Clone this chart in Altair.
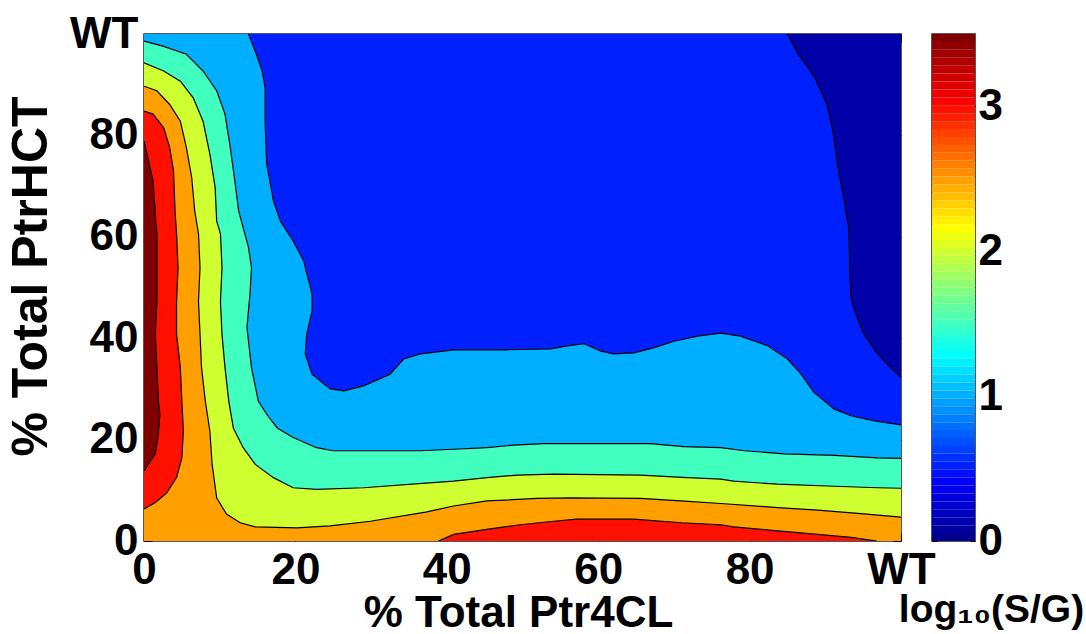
import altair as alt
import numpy as np
import pandas as pd

FONT = "Liberation Sans"

# Iso-lines of log10(S/G) over the transgenic plane.
# x = % total Ptr4CL, y = % total PtrHCT (100 = wild type)
iso05_x = [85.0, 86.3, 88.5, 90.2, 91.0, 91.6, 92.5, 93.1, 93.3, 93.4, 94.0, 95.1, 96.9, 98.7, 100.0]
iso05_y = [100.0, 96.3, 91.7, 86.2, 80.9, 74.4, 67.1, 61.7, 51.3, 47.9, 44.8, 40.8, 36.9, 34.1, 32.3]

iso10_x = [13.8, 14.7, 15.6, 16.0, 16.0, 16.2, 17.1, 18.0, 19.7, 21.1, 22.2, 22.2, 21.5, 21.3,
           22.2, 24.6, 26.4, 29.0, 32.5, 34.3, 36.5, 40.9, 47.5, 53.7, 55.9, 58.1, 60.3, 62.0,
           64.7, 67.3, 70.0, 73.1, 76.2, 78.8, 82.4, 85.0, 86.8, 88.5, 91.2, 93.4, 96.5, 100.0]
iso10_y = [100.0, 96.6, 92.7, 89.4, 82.8, 74.4, 67.1, 63.1, 59.2, 55.2, 48.7, 45.4, 40.8, 36.9,
           32.9, 30.0, 29.6, 30.6, 32.9, 35.9, 36.9, 37.7, 37.7, 37.9, 38.5, 38.9, 37.5, 36.9,
           37.1, 38.1, 39.4, 40.4, 41.0, 40.4, 38.5, 35.9, 32.9, 29.3, 26.0, 24.7, 23.7, 22.9]

iso15_x = [0.0, 2.5, 5.6, 7.8, 9.6, 10.7, 11.4, 12.0, 12.5, 13.1, 13.8, 14.2, 14.0, 13.6, 14.2,
           15.1, 16.2, 17.6, 19.7, 22.8, 25.0, 31.2, 36.5, 40.9, 45.3, 48.8, 52.8, 66.9, 71.3,
           76.2, 79.3, 84.6, 91.2, 96.9, 100.0]
iso15_y = [98.6, 97.6, 96.0, 92.7, 88.8, 84.2, 77.6, 71.0, 65.1, 61.8, 57.9, 53.9, 48.7, 42.1, 34.2,
           27.6, 25.0, 22.3, 20.4, 18.4, 17.8, 17.8, 17.8, 18.1, 18.4, 18.9, 19.2, 19.2, 18.6,
           18.4, 17.8, 17.2, 16.9, 16.4, 16.3]

iso20_x = [0.0, 2.6, 4.8, 6.5, 7.8, 8.7, 9.4, 9.6, 10.1, 10.3, 10.1, 10.3, 10.7, 11.2, 11.8, 13.1,
           14.7, 17.1, 19.7, 22.8, 29.0, 37.2, 40.9, 45.3, 49.3, 54.1, 65.6, 71.8, 76.2, 77.9,
           83.7, 91.2, 96.9, 100.0]
iso20_y = [94.3, 92.7, 90.7, 87.4, 82.8, 76.3, 69.7, 63.1, 60.6, 53.9, 47.3, 40.8, 34.2, 27.6, 22.3,
           18.4, 15.1, 12.5, 10.5, 10.2, 10.5, 11.4, 11.8, 12.5, 13.0, 13.2, 13.0, 12.5, 12.2,
           11.8, 11.2, 10.8, 10.5, 10.4]

iso25_x = [0.0, 1.7, 3.4, 4.8, 5.6, 6.3, 6.7, 7.2, 7.4, 7.2, 7.4, 7.6, 8.1, 8.7, 9.0, 9.6, 10.9,
           12.7, 14.7, 20.2, 24.6, 29.9, 37.2, 40.9, 45.3, 51.9, 56.3, 65.6, 70.9, 76.2, 83.7,
           89.0, 94.7, 100.0]
iso25_y = [89.7, 88.8, 86.1, 82.8, 77.6, 71.7, 65.1, 60.6, 53.9, 47.3, 40.8, 34.2, 27.6, 21.7, 15.1,
           8.5, 5.3, 3.6, 2.8, 2.6, 3.0, 3.9, 5.7, 6.9, 7.9, 8.4, 8.5, 8.4, 7.9, 7.4, 6.6, 6.1,
           5.4, 4.7]

iso30a_x = [0.0, 1.2, 2.6, 3.4, 3.9, 4.1, 4.3, 4.5, 4.3, 4.3, 4.8, 5.0, 5.2, 5.0, 4.3, 3.0, 1.5, 0.0]
iso30a_y = [84.8, 84.2, 81.5, 77.6, 73.0, 65.1, 60.6, 53.9, 47.3, 40.8, 34.2, 27.6, 21.7, 16.4,
            12.5, 9.5, 7.6, 6.3]

iso30b_x = [38.9, 40.9, 45.3, 49.7, 54.1, 57.2, 64.7, 71.0, 76.2, 77.9, 83.7, 89.0, 93.4, 96.8]
iso30b_y = [0.0, 1.3, 2.3, 3.2, 3.9, 4.3, 4.3, 3.6, 3.2, 2.8, 2.0, 1.3, 0.7, 0.0]

iso35_x = [0.0, 0.6, 1.2, 1.5, 1.7, 1.7, 1.5, 1.7, 1.9, 2.1, 1.9, 1.5, 0.0]
iso35_y = [78.9, 75.0, 71.0, 64.1, 60.6, 47.3, 40.8, 34.2, 27.6, 25.0, 21.1, 17.2, 13.8]

# jet colours of the filled bands, lowest level first
band_colors = ["#0000A8", "#0020FF", "#00AFFF", "#40FFBF", "#CFFF30", "#FF9F00", "#FF1000", "#FF1000", "#800000"]

# superlevel regions: (iso-line, plot corners that close the region)
LO, HI = 0, 100
regions = [
    ([], [], [(LO, LO), (HI, LO), (HI, HI), (LO, HI)]),
    (iso05_x, iso05_y, [(HI, LO), (LO, LO), (LO, HI)]),
    (iso10_x, iso10_y, [(HI, LO), (LO, LO), (LO, HI)]),
    (iso15_x, iso15_y, [(HI, LO), (LO, LO)]),
    (iso20_x, iso20_y, [(HI, LO), (LO, LO)]),
    (iso25_x, iso25_y, [(HI, LO), (LO, LO)]),
    (iso30a_x, iso30a_y, []),
    (iso30b_x, iso30b_y, []),
    (iso35_x, iso35_y, []),
]

iso_lines = {
    "0.5": (iso05_x, iso05_y), "1.0": (iso10_x, iso10_y), "1.5": (iso15_x, iso15_y),
    "2.0": (iso20_x, iso20_y), "2.5": (iso25_x, iso25_y), "3.0a": (iso30a_x, iso30a_y),
    "3.0b": (iso30b_x, iso30b_y), "3.5": (iso35_x, iso35_y),
}

TICKS = [0, 20, 40, 60, 80, 100]
CB_TICKS = [0, 1, 2, 3]
CB_MAX = 3.5
WT_LABEL = "datum.value == 100 ? 'WT' : datum.label"

xs = alt.Scale(domain=[LO, HI], nice=False, zero=False)
ys = alt.Scale(domain=[LO, HI], nice=False, zero=False)

tick_style = dict(tickColor="black", tickWidth=1, tickSize=8, offset=-8, domain=False, grid=False,
                  labelFont=FONT, labelFontSize=44, labelFontWeight="bold", labelColor="black",
                  labelFlush=False, labelOverlap=False, titleFont=FONT,
                  titleFontWeight="bold", titleColor="black")

x_bottom = alt.Axis(orient="bottom", values=TICKS, labelExpr=WT_LABEL, labelPadding=7,
                    title="% Total Ptr4CL", titleFontSize=44, titleX=374, titleY=93,
                    titleAlign="center", titleBaseline="alphabetic", **tick_style)
y_left = alt.Axis(orient="left", values=TICKS, labelExpr=WT_LABEL, labelPadding=6,
                  title="% Total PtrHCT", titleFontSize=50, titleX=-106, titleY=242,
                  titleAlign="center", titleBaseline="alphabetic", titleAngle=270, **tick_style)
x_top = alt.Axis(orient="top", values=TICKS, labels=False, title=None, tickColor="black",
                 tickWidth=1, tickSize=8, offset=-8, domain=False, grid=False)
y_right = alt.Axis(orient="right", values=TICKS, labels=False, title=None, tickColor="black",
                   tickWidth=1, tickSize=8, offset=-8, domain=False, grid=False)

layers = []
for n, ((bx, by, corners), color) in enumerate(zip(regions, band_colors)):
    px = list(bx) + [c[0] for c in corners]
    py = list(by) + [c[1] for c in corners]
    df = pd.DataFrame({"x": px, "y": py, "i": range(len(px))})
    layers.append(
        alt.Chart(df).mark_line(fill=color, strokeOpacity=0, clip=True).encode(
            x=alt.X("x:Q", scale=xs, axis=x_bottom if n == 0 else None),
            y=alt.Y("y:Q", scale=ys, axis=y_left if n == 0 else None),
            order=alt.Order("i:Q"),
        )
    )

line_rows = []
for name, (lx, ly) in iso_lines.items():
    for i, (a, b) in enumerate(zip(lx, ly)):
        line_rows.append({"level": name, "x": a, "y": b, "i": i})
lines = alt.Chart(pd.DataFrame(line_rows)).mark_line(color="black", strokeWidth=1.2, clip=True).encode(
    x=alt.X("x:Q", scale=xs, axis=x_top),
    y=alt.Y("y:Q", scale=ys, axis=y_right),
    detail="level:N",
    order=alt.Order("i:Q"),
)

main = alt.layer(*layers, lines).resolve_axis(x="independent", y="independent").properties(
    width=757, height=507
)

# colour bar: 64-step jet map over 0..3.5
edges = np.linspace(0, CB_MAX, 65)
cb = pd.DataFrame({"k": "jet", "v0": edges[:-1], "v1": edges[1:]})
jet = alt.Scale(domain=[0, 0.125 * CB_MAX, 0.375 * CB_MAX, 0.625 * CB_MAX, 0.875 * CB_MAX, CB_MAX],
                range=["#000080", "#0000FF", "#00FFFF", "#FFFF00", "#FF0000", "#800000"],
                interpolate="rgb")
cb_y = alt.Scale(domain=[0, CB_MAX], nice=False, zero=False)
cb_x = alt.Scale(paddingInner=0, paddingOuter=0)

cb_right = alt.Axis(orient="right", values=CB_TICKS, tickColor="black", tickWidth=1, tickSize=5,
                    offset=-5, domain=False, grid=False, labelFont=FONT, labelFontSize=44,
                    labelFontWeight="bold", labelColor="black", labelPadding=3, title=None)
cb_left = alt.Axis(orient="left", values=CB_TICKS, tickColor="black", tickWidth=1, tickSize=5,
                   offset=-5, domain=False, grid=False, labels=False, title=None)

bar = alt.Chart(cb).mark_rect().encode(
    x=alt.X("k:N", scale=cb_x, axis=None),
    y=alt.Y("v0:Q", scale=cb_y, axis=cb_right),
    y2="v1:Q",
    color=alt.Color("v1:Q", scale=jet, legend=None),
)
bar_ticks = alt.Chart(cb).mark_rect(opacity=0).encode(
    x=alt.X("k:N", scale=cb_x, axis=None),
    y=alt.Y("v0:Q", scale=cb_y, axis=cb_left),
    y2="v1:Q",
)
cb_title = alt.TitleParams(text="log₁₀(S/G)", orient="bottom", anchor="middle", frame="group",
                           dx=38, offset=59, baseline="alphabetic", font=FONT, fontSize=39,
                           fontWeight="bold", color="black")
colorbar = alt.layer(bar, bar_ticks).resolve_axis(y="independent").properties(
    width=43, height=507, title=cb_title
)

chart = (
    alt.hconcat(main, colorbar, spacing=31, bounds="flush")
    .properties(background="white", padding={"left": 5, "top": 11, "right": 0, "bottom": 0})
    .configure_view(stroke="#222222", strokeWidth=1.5)
)

chart.save("out.html", embed_options={"renderer": "svg", "actions": False})
